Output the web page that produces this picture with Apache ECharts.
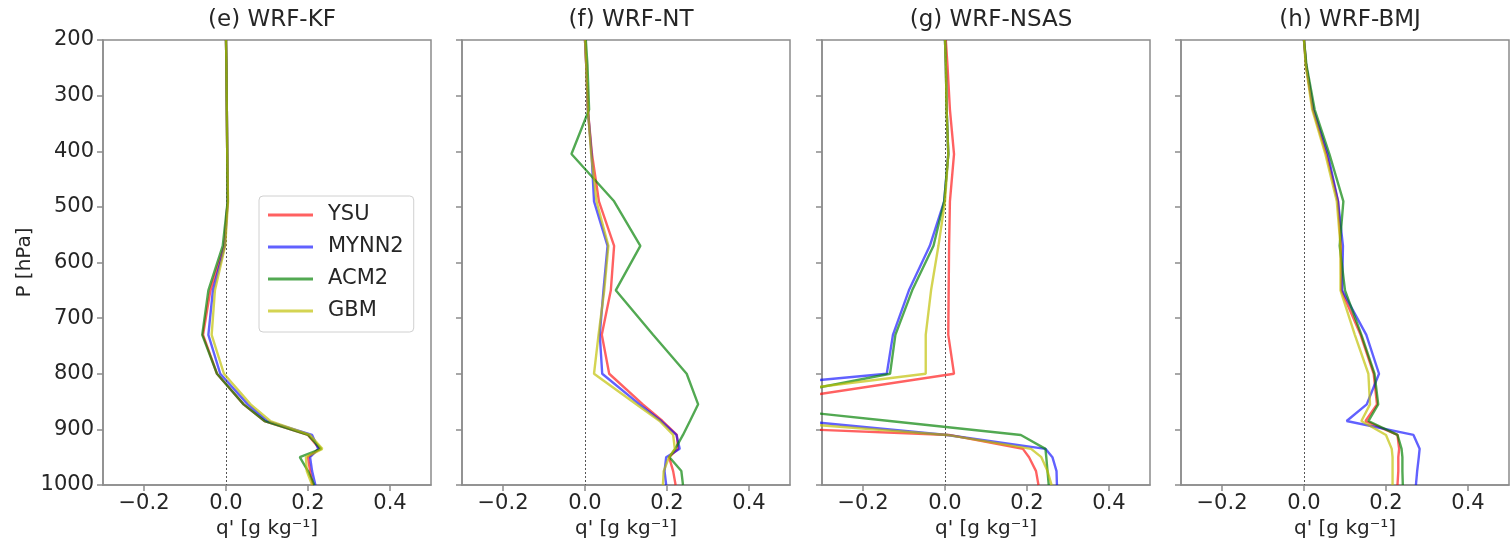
<!DOCTYPE html>
<html>
<head>
<meta charset="utf-8">
<script src="https://cdn.jsdelivr.net/npm/echarts@6/dist/echarts.min.js"></script>
<style>
  html, body { margin: 0; padding: 0; background: #fff; }
  #chart { width: 1511px; height: 546px; }
</style>
</head>
<body>
<div id="chart"></div>
<script>
// Pressure levels (hPa), shared by every profile
const levels = [1000, 975, 950, 935, 910, 885, 855, 800, 730, 650, 570, 490, 405, 325, 245, 200];

// Boundary-layer schemes (legend order)
const schemes = ['YSU', 'MYNN2', 'ACM2', 'GBM'];

// Panel titles
const titles = ['(e) WRF-KF', '(f) WRF-NT', '(g) WRF-NSAS', '(h) WRF-BMJ'];

// Tick values
const xTicks = [-0.2, 0.0, 0.2, 0.4];

// q' profiles (g/kg) at each level, WRF-KF
const kfYSU   = [0.212, 0.205, 0.200, 0.228, 0.200, 0.094, 0.043, -0.022, -0.056, -0.038, -0.004, 0.004, 0.003, 0.002, 0.001, 0.000];
const kfMYNN2 = [0.218, 0.210, 0.205, 0.225, 0.210, 0.100, 0.053, -0.014, -0.043, -0.032, -0.003, 0.004, 0.003, 0.002, 0.001, 0.000];
const kfACM2  = [0.215, 0.200, 0.180, 0.232, 0.200, 0.094, 0.043, -0.022, -0.058, -0.043, -0.008, 0.004, 0.003, 0.002, 0.001, 0.000];
const kfGBM   = [0.210, 0.197, 0.195, 0.235, 0.205, 0.108, 0.060, -0.005, -0.035, -0.027, -0.002, 0.005, 0.003, 0.002, 0.001, 0.000];

// WRF-NT
const ntYSU   = [0.221, 0.215, 0.205, 0.227, 0.224, 0.189, 0.141, 0.059, 0.041, 0.063, 0.071, 0.034, 0.017, 0.007, 0.003, 0.000];
const ntMYNN2 = [0.198, 0.194, 0.198, 0.231, 0.223, 0.186, 0.133, 0.042, 0.036, 0.045, 0.055, 0.022, 0.016, 0.007, 0.003, 0.000];
const ntACM2  = [0.239, 0.235, 0.206, 0.220, 0.239, 0.256, 0.276, 0.248, 0.166, 0.075, 0.135, 0.071, -0.033, 0.010, 0.006, 0.002];
const ntGBM   = [0.190, 0.192, 0.205, 0.219, 0.215, 0.182, 0.125, 0.022, 0.033, 0.047, 0.057, 0.028, 0.015, 0.007, 0.003, 0.000];

// WRF-NSAS
const nsasYSU   = [0.228, 0.222, 0.205, 0.190, 0.010, -0.860, -0.470, 0.022, 0.008, 0.009, 0.010, 0.012, 0.022, 0.012, 0.006, 0.002];
const nsasMYNN2 = [0.273, 0.272, 0.262, 0.245, 0.005, -0.350, -0.930, -0.142, -0.127, -0.088, -0.037, -0.002, 0.008, 0.004, 0.002, 0.000];
const nsasACM2  = [0.253, 0.250, 0.247, 0.245, 0.185, -0.135, -0.520, -0.134, -0.121, -0.080, -0.028, -0.002, 0.008, 0.004, 0.002, 0.000];
const nsasGBM   = [0.260, 0.250, 0.235, 0.210, 0.005, -0.440, -0.650, -0.047, -0.047, -0.034, -0.016, 0.000, 0.008, 0.004, 0.002, 0.000];

// WRF-BMJ
const bmjYSU   = [0.228, 0.230, 0.230, 0.232, 0.228, 0.150, 0.178, 0.170, 0.138, 0.091, 0.090, 0.083, 0.055, 0.022, 0.005, 0.000];
const bmjMYNN2 = [0.273, 0.276, 0.280, 0.282, 0.267, 0.104, 0.153, 0.183, 0.152, 0.093, 0.095, 0.083, 0.058, 0.023, 0.005, 0.000];
const bmjACM2  = [0.241, 0.240, 0.240, 0.238, 0.228, 0.157, 0.181, 0.172, 0.140, 0.100, 0.087, 0.096, 0.062, 0.026, 0.006, 0.000];
const bmjGBM   = [0.216, 0.216, 0.216, 0.214, 0.200, 0.140, 0.161, 0.157, 0.124, 0.089, 0.089, 0.080, 0.052, 0.020, 0.004, 0.000];

const profiles = [
  [kfYSU, kfMYNN2, kfACM2, kfGBM],
  [ntYSU, ntMYNN2, ntACM2, ntGBM],
  [nsasYSU, nsasMYNN2, nsasACM2, nsasGBM],
  [bmjYSU, bmjMYNN2, bmjACM2, bmjGBM]
];

const colors = ['rgba(255,0,0,0.62)', 'rgba(0,0,255,0.62)', 'rgba(0,128,0,0.68)', 'rgba(191,191,0,0.68)'];

const FONT = 'DejaVu Sans';
const TEXT = '#262626';
const SPINE = '#8c8c8c';

const panelLeft = [103, 462, 822, 1181];
const panelWidth = 328;
const panelTop = 40;
const panelHeight = 445;

const fmt = v => (v < 0 ? '\u2212' : '') + Math.abs(v).toFixed(1);

const grid = [], xAxis = [], yAxis = [], title = [], series = [];

titles.forEach((t, i) => {
  grid.push({
    left: panelLeft[i], top: panelTop, width: panelWidth, height: panelHeight,
    show: true, borderColor: SPINE, borderWidth: 1.5, backgroundColor: '#fff'
  });
  title.push({
    text: t, left: panelLeft[i] + panelWidth / 2, top: 4, textAlign: 'center',
    textStyle: { fontFamily: FONT, fontSize: 23, fontWeight: 'normal', color: TEXT }
  });
  xAxis.push({
    type: 'value', gridIndex: i, min: -0.3, max: 0.5,
    name: "q' [g kg\u207B\u00B9]", nameLocation: 'middle', nameGap: 30,
    nameTextStyle: { fontFamily: FONT, fontSize: 20, color: TEXT },
    axisLine: { show: true, onZero: false, lineStyle: { color: SPINE, width: 1.5 } },
    axisTick: { show: true, length: 6, customValues: xTicks, lineStyle: { color: SPINE, width: 1.5 } },
    axisLabel: { show: true, customValues: xTicks, formatter: fmt, margin: 8,
                 fontFamily: FONT, fontSize: 21, color: TEXT },
    splitLine: { show: false }
  });
  yAxis.push({
    type: 'value', gridIndex: i, inverse: true, min: 200, max: 1000, interval: 100,
    name: i === 0 ? 'P [hPa]' : '', nameLocation: 'middle', nameGap: 68, nameRotate: 90,
    nameTextStyle: { fontFamily: FONT, fontSize: 20, color: TEXT },
    axisLine: { show: true, onZero: false, lineStyle: { color: SPINE, width: 1.5 } },
    axisTick: { show: true, length: 6, lineStyle: { color: SPINE, width: 1.5 } },
    axisLabel: { show: i === 0, margin: 9, formatter: v => String(v),
                 fontFamily: FONT, fontSize: 21, color: TEXT },
    splitLine: { show: false }
  });
  profiles[i].forEach((vals, k) => {
    const s = {
      name: schemes[k], type: 'line', xAxisIndex: i, yAxisIndex: i,
      data: levels.map((p, j) => [vals[j], p]),
      symbol: 'none', clip: true, animation: false,
      lineStyle: { color: colors[k], width: 2.4 },
      itemStyle: { color: colors[k] },
      z: 3 + k
    };
    if (k === 0) {
      // dotted reference line at q' = 0
      s.markLine = {
        silent: true, symbol: ['none', 'none'], animation: false,
        label: { show: false },
        lineStyle: { type: [2, 2], color: '#555', width: 1 },
        data: [{ xAxis: 0 }]
      };
    }
    series.push(s);
  });
});

const chart = echarts.init(document.getElementById('chart'), null, { renderer: 'canvas' });
chart.setOption({
  backgroundColor: '#fff',
  animation: false,
  title, grid, xAxis, yAxis, series,
  legend: {
    data: schemes, orient: 'vertical', left: 259, top: 196,
    icon: 'rect', itemWidth: 45, itemHeight: 3, itemGap: 10,
    padding: [8, 10, 10, 9],
    backgroundColor: 'rgba(255,255,255,0.85)', borderColor: '#d0d0d0', borderWidth: 1, borderRadius: 4,
    textStyle: { fontFamily: FONT, fontSize: 21, lineHeight: 22, color: TEXT, padding: [0, 0, 0, 10] },
    selectedMode: false
  }
});
</script>
</body>
</html>
